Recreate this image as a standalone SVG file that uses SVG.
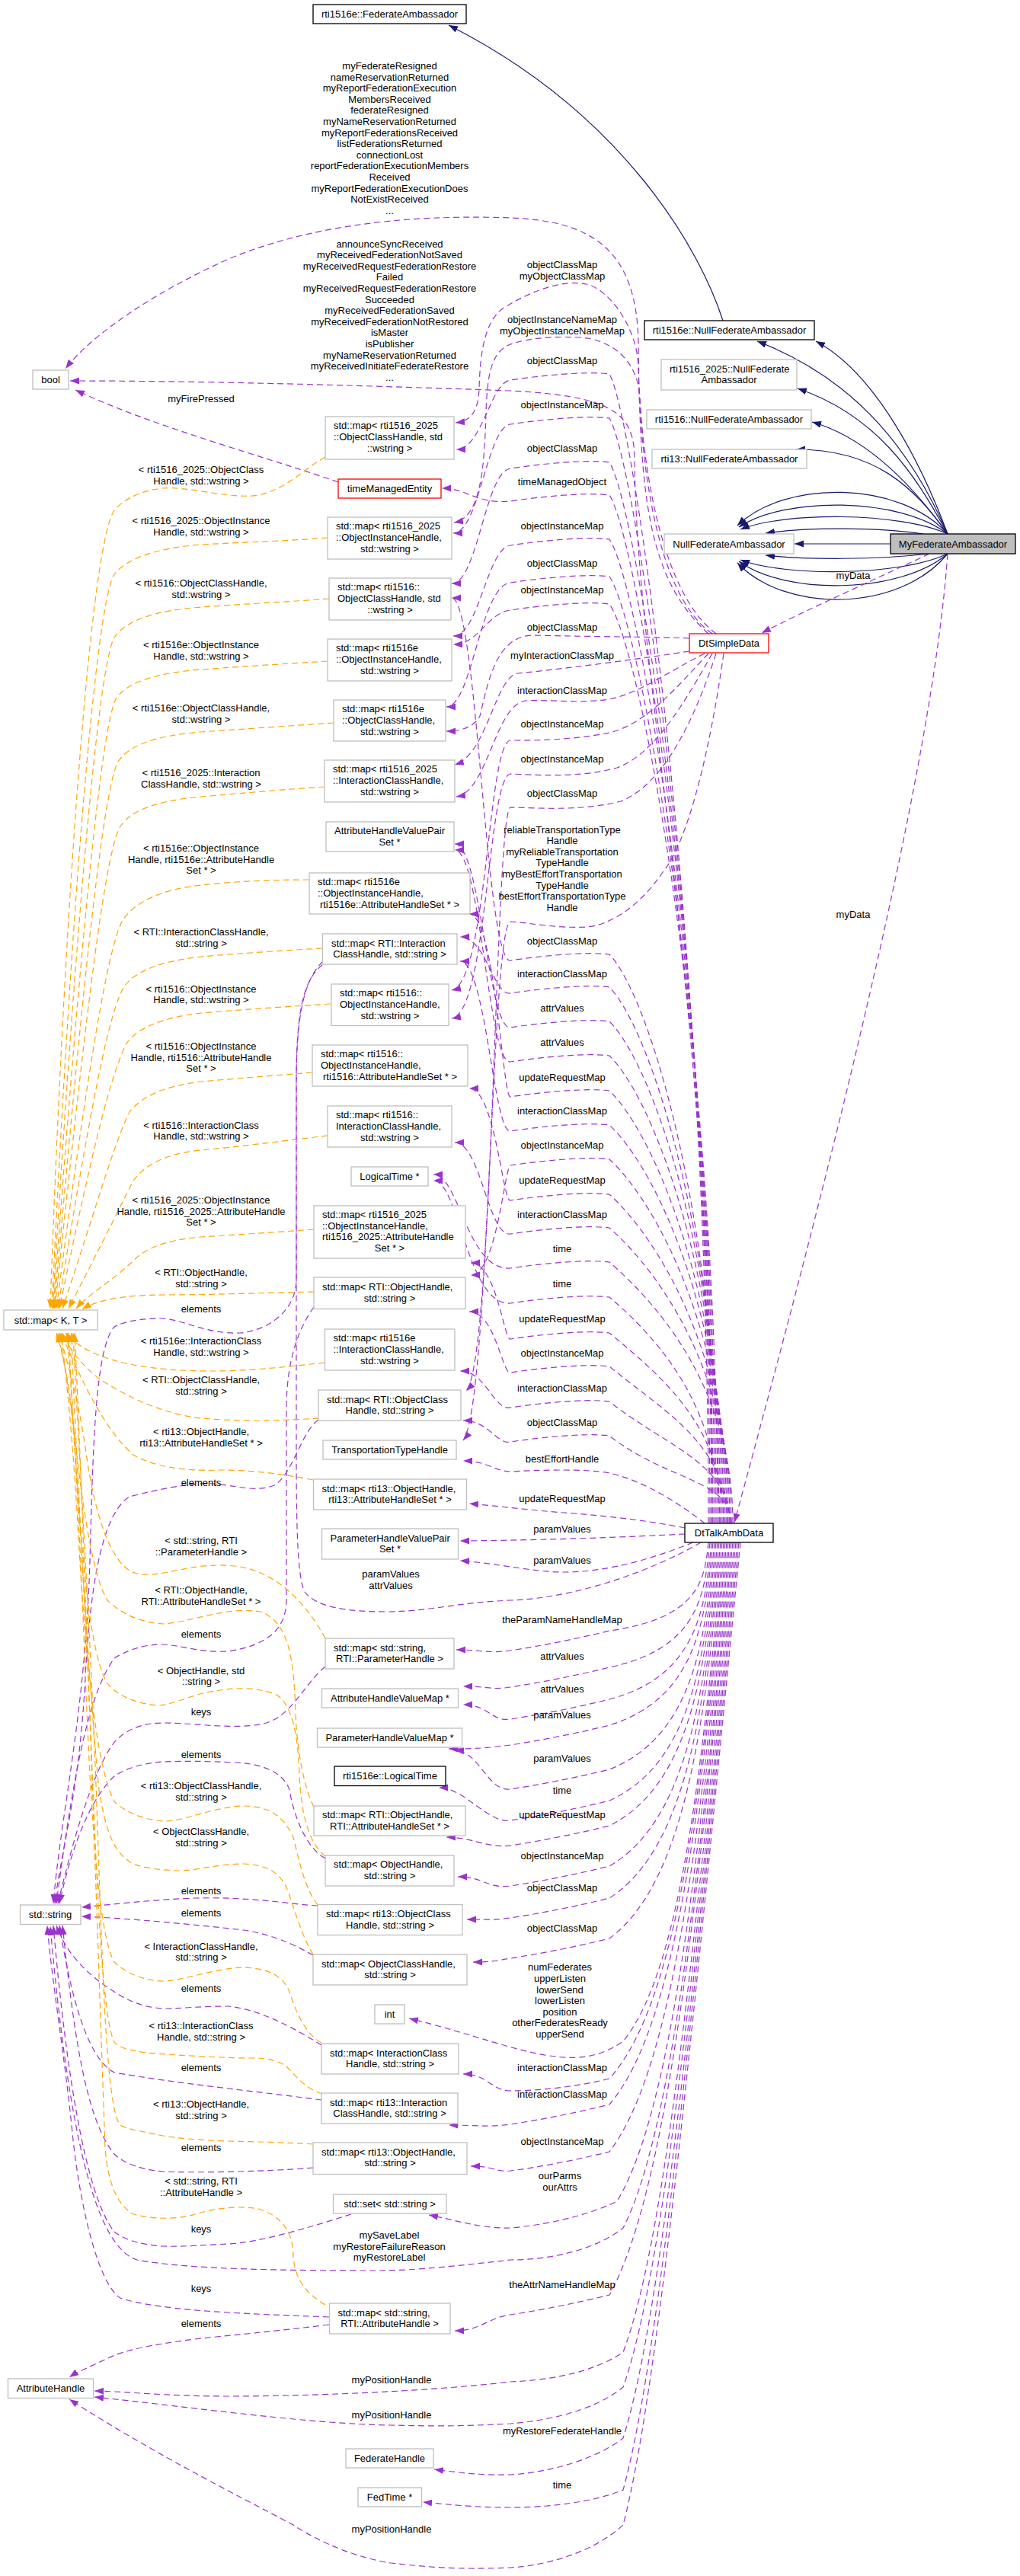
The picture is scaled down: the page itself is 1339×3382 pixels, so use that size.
<svg xmlns="http://www.w3.org/2000/svg" width="1339" height="3382" viewBox="0 0 1339 3382">
<defs>
<style>
.g{fill:#fff;stroke:#bfbfbf;stroke-width:1.3}
.k{fill:#fff;stroke:#000;stroke-width:1.3}
.r{fill:#fff;stroke:#ff0000;stroke-width:1.3}
text{font-family:"Liberation Sans",Arial,sans-serif;font-size:13px;fill:#000}
.c{text-anchor:middle}
.p{fill:none;stroke:#9a32cd;stroke-width:1.2;stroke-dasharray:8,5;marker-end:url(#ap)}
.nm{marker-end:none}
.o{fill:none;stroke:#ffa500;stroke-width:1.2;stroke-dasharray:8,5;marker-end:url(#ao)}
.b{fill:none;stroke:#191970;stroke-width:1.2;marker-end:url(#ab)}
</style>
<marker id="ap" markerUnits="userSpaceOnUse" markerWidth="14" markerHeight="10" refX="12" refY="4.5" orient="auto"><path d="M0,0L12,4.5L0,9z" fill="#9a32cd"/></marker>
<marker id="ao" markerUnits="userSpaceOnUse" markerWidth="14" markerHeight="10" refX="12" refY="4.5" orient="auto"><path d="M0,0L12,4.5L0,9z" fill="#ffa500"/></marker>
<marker id="ab" markerUnits="userSpaceOnUse" markerWidth="14" markerHeight="10" refX="12" refY="4.5" orient="auto"><path d="M0,0L12,4.5L0,9z" fill="#191970"/></marker>
</defs>
<rect width="1339" height="3382" fill="#fff"/>
<g id="connectors">
<path class="b" d="M949,421 C920,330 820,150 589,33"/>
<path class="b" d="M1244,701 C1210,610 1150,490 1071,448"/>
<path class="b" d="M1244,701 C1200,600 1130,500 994,448"/>
<path class="b" d="M1244,701 C1200,620 1150,545 1047,510"/>
<path class="b" d="M1244,701 C1200,640 1140,575 1066,554"/>
<path class="b" d="M1244,701 C1200,640 1150,590 1045,590"/>
<path class="b" d="M1244,701 C1180,630 1030,630 968,690"/>
<path class="b" d="M1244,701 C1180,652 1030,652 970,692"/>
<path class="b" d="M1244,701 C1180,672 1030,672 972,695"/>
<path class="b" d="M1212,701 C1150,692 1060,692 1005,700"/>
<path class="b" d="M1169,714 L1043,714"/>
<path class="b" d="M1220,727 C1150,735 1060,735 1005,729"/>
<path class="b" d="M1244,727 C1180,757 1030,757 972,735"/>
<path class="b" d="M1244,727 C1180,781 1030,781 970,737"/>
<path class="b" d="M1244,727 C1180,805 1030,805 968,739"/>

<path class="p" d="M1220,727 C1150,760 1060,800 1000,831"/>
<path class="p" d="M1244,727 C1225,1000 1100,1500 964,1999"/>
<path class="p" d="M930,832 C850,760 840,650 838,450 C836,330 780,290 670,286 C560,282 420,290 300,340 C200,385 120,440 86,484"/>
<path class="p" d="M935,2000 C935,1300 835,900 833,600 C832,540 800,520 670,513 C450,505 250,500 92,500"/>
<path class="p" d="M444,633 C350,600 200,560 99,512"/>
<path class="p" d="M935,832 C860,780 840,600 838,480 C836,430 800,380 770,373 C740,367 700,380 660,405 C632,425 630,480 629,510 C628,540 618,553 598,555"/>
<path class="p" d="M940,832 C870,780 845,620 840,520 C836,470 800,445 760,443 C720,441 690,445 670,452 C645,462 640,490 638,540 C636,620 630,680 596,686"/>
<path class="p" d="M930,2000 C930,1245 834,551 800,491 C770,487 710,493 670,499 C643,503 633,590 599,590"/>
<path class="p" d="M932,2000 C932,1275 836,609 800,549 C770,545 710,551 670,557 C639,561 629,700 595,700"/>
<path class="p" d="M934,2000 C934,1303 838,667 800,607 C770,603 710,609 670,615 C637,619 627,766 593,766"/>
<path class="p" d="M936,2000 C936,1325 839,710 800,650 C770,646 710,652 670,658 C624,662 614,641 580,641"/>
<path class="p" d="M938,2000 C938,1354 841,768 800,708 C770,704 710,710 670,716 C639,720 629,835 595,835"/>
<path class="p" d="M940,2000 C940,1378 842,817 800,757 C770,753 710,759 670,765 C630,769 620,928 586,928"/>
<path class="p" d="M942,2000 C942,1396 843,853 800,793 C770,789 710,795 670,801 C639,805 629,846 595,846"/>
<path class="p" d="M905,838 C860,836 780,836 700,834 C650,834 640,900 630,940 C622,955 605,960 586,960"/>
<path class="p" d="M905,855 C860,862 760,876 680,884 C650,888 640,990 597,1004"/>
<path class="p" d="M925,858 C880,880 840,910 800,918 C760,924 720,918 690,920 C650,925 640,1040 599,1046"/>
<path class="p" d="M930,858 C890,900 850,950 800,962 C750,972 700,972 670,972 C640,975 640,1290 593,1300"/>
<path class="p" d="M935,858 C900,920 860,990 810,1008 C760,1022 700,1017 670,1016 C640,1020 640,1330 593,1337"/>
<path class="p" d="M940,858 C910,950 870,1030 815,1052 C760,1066 700,1060 670,1060 C650,1065 648,1790 612,1826"/>
<path class="p" d="M950,858 C930,1000 900,1110 870,1145 C840,1190 800,1215 770,1217 C730,1219 700,1212 670,1210 C645,1215 642,1850 608,1891"/>
<path class="p" d="M944,2000 C944,1626 857,1313 800,1253 C770,1249 710,1255 670,1261 C637,1265 627,785 593,785"/>
<path class="p" d="M946,2000 C946,1648 858,1356 800,1296 C770,1292 710,1298 670,1304 C648,1308 638,1230 604,1230"/>
<path class="p" d="M948,2000 C948,1670 860,1401 800,1341 C770,1337 710,1343 670,1349 C641,1353 631,1108 597,1108"/>
<path class="p" d="M950,2000 C950,1693 861,1446 800,1386 C770,1382 710,1388 670,1394 C641,1398 631,1116 597,1116"/>
<path class="p" d="M952,2000 C952,1716 862,1492 800,1432 C770,1428 710,1434 670,1440 C660,1444 650,1200 616,1200"/>
<path class="p" d="M954,2000 C954,1738 864,1537 800,1477 C770,1473 710,1479 670,1485 C648,1489 638,1262 604,1262"/>
<path class="p" d="M956,2000 C956,1761 865,1582 800,1522 C770,1518 710,1524 670,1530 C662,1534 652,1674 618,1674"/>
<path class="p" d="M958,2000 C958,1784 866,1628 800,1568 C770,1564 710,1570 670,1576 C660,1580 650,1429 616,1429"/>
<path class="p" d="M960,2000 C960,1806 868,1672 800,1612 C770,1608 710,1614 670,1620 C641,1624 631,1500 597,1500"/>
<path class="p" d="M962,2000 C962,1828 869,1717 800,1657 C770,1653 710,1659 670,1665 C613,1669 603,1542 569,1542"/>
<path class="p" d="M945,2000 C945,1851 870,1763 800,1703 C770,1699 710,1705 670,1711 C613,1715 603,1550 569,1550"/>
<path class="p" d="M950,2000 C950,1875 872,1810 800,1750 C770,1746 710,1752 670,1758 C662,1762 652,1658 618,1658"/>
<path class="p" d="M955,2000 C955,1897 873,1854 800,1794 C770,1790 710,1796 670,1802 C660,1806 650,1722 616,1722"/>
<path class="p" d="M958,2000 C958,1920 875,1900 800,1840 C770,1836 710,1842 670,1848 C648,1852 638,1800 604,1800"/>
<path class="p" d="M960,2000 C960,1942 876,1945 800,1885 C770,1881 710,1887 670,1893 C652,1897 642,1865 608,1865"/>
<path class="p" d="M925,2000 C900,1980 850,1945 800,1934 C770,1928 710,1930 670,1932 C650,1932 640,1918 608,1918"/>
<path class="p" d="M899,2006 C860,1998 800,1990 740,1986 C700,1983 660,1978 616,1974"/>
<path class="p" d="M899,2014 C820,2018 720,2022 604,2023"/>
<path class="p" d="M910,2025 C860,2045 800,2064 740,2064 C700,2064 650,2052 604,2049"/>
<path class="p nm" d="M920,2025 C860,2060 760,2098 670,2101 C600,2104 560,2116 508,2116 C455,2116 415,2110 400,2090 C390,2070 389,2000 389,1900 L389,1420 C389,1320 400,1285 424,1266"/>
<path class="p" d="M930,2025 C925,2071 921,2124 800,2141 C760,2151 710,2161 670,2167 C640,2171 633,2166 599,2166"/>
<path class="p" d="M932,2025 C925,2091 919,2164 800,2189 C760,2199 710,2209 670,2215 C645,2219 642,2214 608,2214"/>
<path class="p" d="M934,2025 C926,2107 918,2200 800,2231 C760,2241 710,2251 670,2257 C645,2261 642,2238 608,2238"/>
<path class="p" d="M936,2025 C926,2121 917,2229 800,2265 C760,2275 710,2285 670,2291 C640,2295 623,2296 589,2296"/>
<path class="p" d="M938,2025 C926,2144 914,2278 800,2323 C760,2333 710,2343 670,2349 C640,2353 631,2300 597,2298"/>
<path class="p" d="M940,2025 C926,2161 913,2313 800,2364 C760,2374 710,2384 670,2390 C640,2394 610,2347 576,2347"/>
<path class="p" d="M942,2025 C927,2174 912,2341 800,2397 C760,2407 710,2417 670,2423 C640,2427 620,2412 586,2412"/>
<path class="p" d="M944,2025 C927,2195 910,2386 800,2450 C760,2460 710,2470 670,2476 C640,2480 635,2464 601,2464"/>
<path class="p" d="M946,2025 C927,2212 909,2422 800,2492 C760,2502 710,2512 670,2518 C650,2521 647,2520 613,2520"/>
<path class="p" d="M948,2025 C927,2233 906,2467 800,2545 C760,2555 710,2565 670,2571 C655,2573 650,2576 621,2576"/>
<path class="p" d="M950,2025 C924,2287 898,2582 818,2680 C790,2700 760,2704 730,2700 C680,2695 620,2670 537,2650"/>
<path class="p" d="M952,2025 C924,2307 896,2623 800,2729 C760,2739 710,2745 670,2745 C645,2745 640,2723 608,2723"/>
<path class="p" d="M954,2025 C924,2320 895,2652 800,2763 C760,2773 710,2783 670,2789 C640,2793 623,2790 589,2790"/>
<path class="p" d="M956,2025 C924,2345 892,2705 800,2825 C760,2835 710,2845 670,2850 C650,2852 650,2844 618,2844"/>
<path class="p" d="M958,2025 C923,2371 889,2760 810,2890 C770,2910 710,2922 670,2925 C630,2926 600,2915 563,2908"/>
<path class="p" d="M960,2025 C924,2385 888,2790 818,2925 C780,2955 720,2967 670,2967 C600,2975 540,2981 500,2981 C380,2981 250,2980 180,2967 C125,2950 90,2800 66,2529"/>
<path class="p" d="M962,2025 C922,2420 883,2865 800,3013 C760,3023 710,3033 670,3039 C640,3043 631,3060 597,3060"/>
<path class="p" d="M964,2025 C921,2450 879,2929 818,3088 C780,3115 720,3125 670,3127 C560,3140 400,3146 299,3146 C220,3146 170,3140 124,3139"/>
<path class="p" d="M966,2025 C922,2469 877,2968 818,3134 C780,3165 720,3178 670,3182 C600,3186 560,3185 513,3184 C400,3182 250,3160 124,3147"/>
<path class="p" d="M968,2025 C921,2495 874,3025 818,3201 C780,3230 720,3246 670,3249 C630,3250 600,3246 570,3242"/>
<path class="p" d="M970,2025 C920,2523 870,3082 818,3269 C780,3285 720,3292 670,3292 C620,3292 590,3288 555,3285"/>
<path class="p" d="M972,2025 C920,2541 869,3121 818,3315 C780,3350 720,3368 670,3371 C600,3374 560,3370 513,3365 C450,3355 400,3325 385,3315 C300,3270 200,3220 91,3150"/>

<path class="p" d="M424,1262 C400,1285 389,1330 389,1420 L389,1680 C389,1715 360,1745 316,1750 C270,1752 240,1732 213,1731 C180,1731 160,1736 150,1742 C125,1770 122,1900 118,2050 C112,2250 80,2380 70,2499"/>
<path class="p" d="M418,1864 C395,1880 385,1935 360,1950 C330,1962 300,1945 260,1948 C220,1952 190,1960 170,1965 C130,1990 118,2100 112,2200 C105,2350 80,2430 72,2499"/>
<path class="p" d="M412,1716 C395,1740 376,1780 376,1850 L376,2100 C376,2140 350,2160 300,2168 C260,2170 240,2160 213,2159 C185,2159 165,2168 150,2177 C120,2220 100,2300 74,2499"/>
<path class="p" d="M427,2440 C400,2425 385,2380 380,2350 C372,2325 340,2315 308,2314 C270,2312 240,2312 214,2313 C185,2315 165,2322 150,2332 C120,2360 95,2420 78,2499"/>
<path class="p" d="M427,2188 C400,2210 385,2250 350,2262 C310,2272 260,2262 214,2262 C180,2262 160,2275 148,2290 C120,2330 95,2420 76,2499"/>
<path class="p" d="M417,2502 C380,2500 330,2490 256,2492 C200,2494 150,2500 107,2504"/>
<path class="p" d="M411,2567 C390,2555 360,2540 320,2534 C250,2526 160,2518 107,2516"/>
<path class="p" d="M422,2685 C390,2665 340,2637 299,2634 C260,2634 240,2637 214,2637 C185,2635 165,2625 150,2615 C110,2590 85,2560 74,2528"/>
<path class="p" d="M422,2757 C330,2745 230,2735 150,2721 C110,2700 90,2600 78,2528"/>
<path class="p" d="M411,2846 C350,2851 260,2853 214,2851 C180,2848 160,2838 150,2828 C110,2780 95,2650 82,2528"/>
<path class="p" d="M461,2907 C420,2920 340,2945 299,2946 C260,2948 230,2950 214,2949 C180,2947 160,2938 150,2930 C110,2880 85,2700 70,2528"/>
<path class="p" d="M432,3042 C380,3040 330,3038 299,3036 C230,3032 180,3025 158,3017 C130,3000 105,2900 95,2800 C85,2700 68,2600 62,2528"/>
<path class="p" d="M432,3052 C350,3062 300,3066 256,3071 C200,3078 160,3086 140,3097 C120,3106 100,3115 91,3121"/>

<path class="o" d="M427,600 C395,618 380,640 340,650 C300,656 250,638 213,641 C180,645 160,658 150,670 C115,720 80,1300 66,1718"/>
<path class="o" d="M430,706 C380,710 320,712 264,715 C200,720 165,735 150,754 C122,800 88,1300 68,1718"/>
<path class="o" d="M432,786 C380,790 320,793 264,797 C200,802 165,815 150,837 C126,880 93,1320 69,1718"/>
<path class="o" d="M430,868 C380,871 320,875 264,879 C200,884 165,897 152,918 C130,960 98,1340 70,1718"/>
<path class="o" d="M438,949 C380,953 320,957 264,961 C200,966 168,980 155,1000 C133,1040 103,1360 71,1718"/>
<path class="o" d="M426,1033 C380,1036 320,1041 264,1046 C205,1051 170,1065 158,1085 C136,1120 108,1380 72,1718"/>
<path class="o" d="M406,1155 C350,1155 300,1158 264,1162 C210,1168 175,1185 160,1210 C140,1250 113,1420 74,1718"/>
<path class="o" d="M423,1245 C370,1248 310,1252 264,1256 C210,1262 178,1275 163,1295 C142,1330 118,1460 76,1718"/>
<path class="o" d="M434,1318 C370,1322 310,1326 264,1330 C212,1336 180,1350 166,1370 C146,1410 123,1500 78,1718"/>
<path class="o" d="M410,1408 C360,1412 310,1416 264,1420 C215,1426 185,1440 170,1460 C150,1500 128,1580 82,1718"/>
<path class="o" d="M430,1491 C370,1498 310,1506 264,1510 C215,1515 190,1530 175,1550 C155,1590 120,1660 90,1718"/>
<path class="o" d="M412,1614 C360,1618 310,1621 264,1624 C215,1628 190,1640 175,1655 C150,1680 115,1700 100,1718"/>
<path class="o" d="M412,1696 C350,1697 280,1700 220,1700 C170,1700 130,1705 108,1719"/>
<path class="o" d="M426,1789 C380,1794 330,1800 280,1800 C200,1800 120,1790 86,1750"/>
<path class="o" d="M419,1862 C360,1866 310,1866 264,1862 C210,1856 160,1830 130,1810 C105,1790 90,1770 82,1750"/>
<path class="o" d="M411,1943 C370,1935 330,1930 290,1930 C240,1932 200,1925 175,1910 C140,1880 110,1820 80,1750"/>
<path class="o" d="M427,2151 C405,2110 365,2062 308,2056 C250,2050 215,2072 180,2066 C150,2060 125,2000 112,1900 C100,1820 85,1780 78,1750"/>
<path class="o" d="M412,2372 C400,2350 390,2300 388,2250 C386,2180 380,2130 342,2116 C300,2108 250,2130 214,2132 C180,2130 155,2115 141,2101 C115,2060 100,1900 94,1850 C88,1800 80,1770 76,1750"/>
<path class="o" d="M427,2437 C405,2420 395,2380 393,2330 C391,2280 385,2240 363,2225 C330,2212 300,2217 270,2222 C240,2230 220,2240 205,2239 C170,2235 150,2222 141,2210 C115,2170 105,2000 98,1900 C92,1820 82,1775 74,1750"/>
<path class="o" d="M417,2501 C400,2480 392,2440 385,2412 C370,2380 350,2372 320,2371 C280,2372 240,2392 214,2391 C180,2388 160,2375 150,2365 C125,2320 110,2150 102,2000 C95,1880 85,1790 80,1750"/>
<path class="o" d="M411,2566 C395,2540 385,2500 376,2478 C365,2455 345,2448 320,2447 C285,2447 260,2456 235,2456 C200,2455 180,2450 171,2445 C150,2430 140,2410 130,2350 C115,2200 100,1900 88,1750"/>
<path class="o" d="M422,2682 C400,2670 388,2640 380,2615 C370,2590 345,2584 320,2583 C280,2584 240,2601 214,2601 C180,2600 160,2585 150,2576 C130,2540 120,2400 112,2200 C105,2000 92,1800 90,1750"/>
<path class="o" d="M423,2749 C400,2742 388,2725 376,2713 C365,2705 350,2702 330,2702 C290,2702 230,2698 192,2695 C170,2692 155,2688 150,2681 C135,2650 128,2500 120,2300 C112,2100 96,1850 94,1750"/>
<path class="o" d="M411,2815 C380,2813 340,2812 299,2811 C260,2810 230,2807 214,2804 C185,2798 165,2795 158,2790 C140,2770 135,2600 128,2400 C120,2150 100,1850 96,1750"/>
<path class="o" d="M427,3026 C400,3010 386,2990 385,2960 C384,2930 370,2910 340,2900 C310,2895 280,2900 256,2907 C235,2914 200,2914 175,2907 C155,2895 142,2870 138,2820 C130,2600 110,2000 98,1750"/>
</g>
<g id="edge-labels">
<text class="c" x="511.5" y="91">myFederateResigned</text>
<text class="c" x="511.5" y="105.6">nameReservationReturned</text>
<text class="c" x="511.5" y="120.2">myReportFederationExecution</text>
<text class="c" x="511.5" y="134.8">MembersReceived</text>
<text class="c" x="511.5" y="149.4">federateResigned</text>
<text class="c" x="511.5" y="164">myNameReservationReturned</text>
<text class="c" x="511.5" y="178.6">myReportFederationsReceived</text>
<text class="c" x="511.5" y="193.2">listFederationsReturned</text>
<text class="c" x="511.5" y="207.8">connectionLost</text>
<text class="c" x="511.5" y="222.4">reportFederationExecutionMembers</text>
<text class="c" x="511.5" y="237">Received</text>
<text class="c" x="511.5" y="251.6">myReportFederationExecutionDoes</text>
<text class="c" x="511.5" y="266.2">NotExistReceived</text>
<text class="c" x="511.5" y="280.8">...</text>
<text class="c" x="511.5" y="324.5">announceSyncReceived</text>
<text class="c" x="511.5" y="339.1">myReceivedFederationNotSaved</text>
<text class="c" x="511.5" y="353.7">myReceivedRequestFederationRestore</text>
<text class="c" x="511.5" y="368.3">Failed</text>
<text class="c" x="511.5" y="382.9">myReceivedRequestFederationRestore</text>
<text class="c" x="511.5" y="397.5">Succeeded</text>
<text class="c" x="511.5" y="412.1">myReceivedFederationSaved</text>
<text class="c" x="511.5" y="426.7">myReceivedFederationNotRestored</text>
<text class="c" x="511.5" y="441.3">isMaster</text>
<text class="c" x="511.5" y="455.9">isPublisher</text>
<text class="c" x="511.5" y="470.5">myNameReservationReturned</text>
<text class="c" x="511.5" y="485.1">myReceivedInitiateFederateRestore</text>
<text class="c" x="511.5" y="499.7">...</text>
<text class="c" x="264" y="527.5">myFirePressed</text>
<text class="c" x="1120" y="759.5">myData</text>
<text class="c" x="1120" y="1205">myData</text>

<text class="c" x="738" y="352">objectClassMap</text>
<text class="c" x="738" y="367">myObjectClassMap</text>
<text class="c" x="738" y="424">objectInstanceNameMap</text>
<text class="c" x="738" y="438.5">myObjectInstanceNameMap</text>
<text class="c" x="738" y="478">objectClassMap</text>
<text class="c" x="738" y="536">objectInstanceMap</text>
<text class="c" x="738" y="593">objectClassMap</text>
<text class="c" x="738" y="637">timeManagedObject</text>
<text class="c" x="738" y="695">objectInstanceMap</text>
<text class="c" x="738" y="743.5">objectClassMap</text>
<text class="c" x="738" y="779">objectInstanceMap</text>
<text class="c" x="738" y="827.5">objectClassMap</text>
<text class="c" x="738" y="864.5">myInteractionClassMap</text>
<text class="c" x="738" y="910.5">interactionClassMap</text>
<text class="c" x="738" y="955">objectInstanceMap</text>
<text class="c" x="738" y="1000.5">objectInstanceMap</text>
<text class="c" x="738" y="1046">objectClassMap</text>
<text class="c" x="738" y="1093.5">reliableTransportationType</text>
<text class="c" x="738" y="1108.1">Handle</text>
<text class="c" x="738" y="1122.7">myReliableTransportation</text>
<text class="c" x="738" y="1137.3">TypeHandle</text>
<text class="c" x="738" y="1151.9">myBestEffortTransportation</text>
<text class="c" x="738" y="1166.5">TypeHandle</text>
<text class="c" x="738" y="1181.1">bestEffortTransportationType</text>
<text class="c" x="738" y="1195.7">Handle</text>
<text class="c" x="738" y="1239.7">objectClassMap</text>
<text class="c" x="738" y="1282.5">interactionClassMap</text>
<text class="c" x="738" y="1327.5">attrValues</text>
<text class="c" x="738" y="1372.5">attrValues</text>
<text class="c" x="738" y="1418.5">updateRequestMap</text>
<text class="c" x="738" y="1463">interactionClassMap</text>
<text class="c" x="738" y="1508">objectInstanceMap</text>
<text class="c" x="738" y="1554">updateRequestMap</text>
<text class="c" x="738" y="1599">interactionClassMap</text>
<text class="c" x="738" y="1643.7">time</text>
<text class="c" x="738" y="1689.5">time</text>
<text class="c" x="738" y="1736">updateRequestMap</text>
<text class="c" x="738" y="1780.7">objectInstanceMap</text>
<text class="c" x="738" y="1827">interactionClassMap</text>
<text class="c" x="738" y="1872">objectClassMap</text>
<text class="c" x="738" y="1920.4">bestEffortHandle</text>
<text class="c" x="738" y="1972.3">updateRequestMap</text>
<text class="c" x="738" y="2012">paramValues</text>
<text class="c" x="738" y="2052.5">paramValues</text>
<text class="c" x="513" y="2071">paramValues</text>
<text class="c" x="513" y="2086">attrValues</text>
<text class="c" x="738" y="2131">theParamNameHandleMap</text>
<text class="c" x="738" y="2179">attrValues</text>
<text class="c" x="738" y="2222">attrValues</text>
<text class="c" x="738" y="2256">paramValues</text>
<text class="c" x="738" y="2313">paramValues</text>
<text class="c" x="738" y="2354.5">time</text>
<text class="c" x="738" y="2387">updateRequestMap</text>
<text class="c" x="738" y="2441">objectInstanceMap</text>
<text class="c" x="738" y="2482.5">objectClassMap</text>
<text class="c" x="738" y="2535.5">objectClassMap</text>
<text class="c" x="735" y="2587.3">numFederates</text>
<text class="c" x="735" y="2601.9">upperListen</text>
<text class="c" x="735" y="2616.5">lowerSend</text>
<text class="c" x="735" y="2631.1">lowerListen</text>
<text class="c" x="735" y="2645.7">position</text>
<text class="c" x="735" y="2660.3">otherFederatesReady</text>
<text class="c" x="735" y="2674.9">upperSend</text>
<text class="c" x="738" y="2719">interactionClassMap</text>
<text class="c" x="738" y="2754">interactionClassMap</text>
<text class="c" x="738" y="2816">objectInstanceMap</text>
<text class="c" x="735" y="2861">ourParms</text>
<text class="c" x="735" y="2876">ourAttrs</text>
<text class="c" x="511" y="2939">mySaveLabel</text>
<text class="c" x="511" y="2953.5">myRestoreFailureReason</text>
<text class="c" x="511" y="2968">myRestoreLabel</text>
<text class="c" x="738" y="3004">theAttrNameHandleMap</text>
<text class="c" x="514" y="3129">myPositionHandle</text>
<text class="c" x="514" y="3175">myPositionHandle</text>
<text class="c" x="738" y="3196">myRestoreFederateHandle</text>
<text class="c" x="738" y="3267">time</text>
<text class="c" x="514" y="3325">myPositionHandle</text>

<text class="c" x="264" y="621">&lt; rti1516_2025::ObjectClass</text>
<text class="c" x="264" y="636">Handle, std::wstring &gt;</text>
<text class="c" x="264" y="687.7">&lt; rti1516_2025::ObjectInstance</text>
<text class="c" x="264" y="702.5">Handle, std::wstring &gt;</text>
<text class="c" x="264" y="770">&lt; rti1516::ObjectClassHandle,</text>
<text class="c" x="264" y="784.5">std::wstring &gt;</text>
<text class="c" x="264" y="851.3">&lt; rti1516e::ObjectInstance</text>
<text class="c" x="264" y="866.2">Handle, std::wstring &gt;</text>
<text class="c" x="264" y="934">&lt; rti1516e::ObjectClassHandle,</text>
<text class="c" x="264" y="948.5">std::wstring &gt;</text>
<text class="c" x="264" y="1019.3">&lt; rti1516_2025::Interaction</text>
<text class="c" x="264" y="1033.8">ClassHandle, std::wstring &gt;</text>
<text class="c" x="264" y="1117.9">&lt; rti1516e::ObjectInstance</text>
<text class="c" x="264" y="1132.5">Handle, rti1516e::AttributeHandle</text>
<text class="c" x="264" y="1147.1">Set * &gt;</text>
<text class="c" x="264" y="1227.7">&lt; RTI::InteractionClassHandle,</text>
<text class="c" x="264" y="1242.6">std::string &gt;</text>
<text class="c" x="264" y="1302.5">&lt; rti1516::ObjectInstance</text>
<text class="c" x="264" y="1316.5">Handle, std::wstring &gt;</text>
<text class="c" x="264" y="1378.2">&lt; rti1516::ObjectInstance</text>
<text class="c" x="264" y="1392.8">Handle, rti1516::AttributeHandle</text>
<text class="c" x="264" y="1407.4">Set * &gt;</text>
<text class="c" x="264" y="1482">&lt; rti1516::InteractionClass</text>
<text class="c" x="264" y="1496.4">Handle, std::wstring &gt;</text>
<text class="c" x="264" y="1580">&lt; rti1516_2025::ObjectInstance</text>
<text class="c" x="264" y="1594.6">Handle, rti1516_2025::AttributeHandle</text>
<text class="c" x="264" y="1609.2">Set * &gt;</text>
<text class="c" x="264" y="1675">&lt; RTI::ObjectHandle,</text>
<text class="c" x="264" y="1689.5">std::string &gt;</text>
<text class="c" x="264" y="1723">elements</text>
<text class="c" x="264" y="1764.8">&lt; rti1516e::InteractionClass</text>
<text class="c" x="264" y="1779.7">Handle, std::wstring &gt;</text>
<text class="c" x="264" y="1816">&lt; RTI::ObjectClassHandle,</text>
<text class="c" x="264" y="1830.8">std::string &gt;</text>
<text class="c" x="264" y="1883.8">&lt; rti13::ObjectHandle,</text>
<text class="c" x="264" y="1898.6">rti13::AttributeHandleSet * &gt;</text>
<text class="c" x="264" y="1951.2">elements</text>
<text class="c" x="264" y="2027">&lt; std::string, RTI</text>
<text class="c" x="264" y="2042">::ParameterHandle &gt;</text>
<text class="c" x="264" y="2092">&lt; RTI::ObjectHandle,</text>
<text class="c" x="264" y="2106.8">RTI::AttributeHandleSet * &gt;</text>
<text class="c" x="264" y="2150">elements</text>
<text class="c" x="264" y="2197.5">&lt; ObjectHandle, std</text>
<text class="c" x="264" y="2212">::string &gt;</text>
<text class="c" x="264" y="2251.5">keys</text>
<text class="c" x="264" y="2308">elements</text>
<text class="c" x="264" y="2348.5">&lt; rti13::ObjectClassHandle,</text>
<text class="c" x="264" y="2363.5">std::string &gt;</text>
<text class="c" x="264" y="2409">&lt; ObjectClassHandle,</text>
<text class="c" x="264" y="2423.7">std::string &gt;</text>
<text class="c" x="264" y="2487.2">elements</text>
<text class="c" x="264" y="2515.5">elements</text>
<text class="c" x="264" y="2559.5">&lt; InteractionClassHandle,</text>
<text class="c" x="264" y="2574.3">std::string &gt;</text>
<text class="c" x="264" y="2614.5">elements</text>
<text class="c" x="264" y="2664">&lt; rti13::InteractionClass</text>
<text class="c" x="264" y="2678.7">Handle, std::string &gt;</text>
<text class="c" x="264" y="2718.5">elements</text>
<text class="c" x="264" y="2767">&lt; rti13::ObjectHandle,</text>
<text class="c" x="264" y="2782">std::string &gt;</text>
<text class="c" x="264" y="2823.8">elements</text>
<text class="c" x="264" y="2868">&lt; std::string, RTI</text>
<text class="c" x="264" y="2883">::AttributeHandle &gt;</text>
<text class="c" x="264" y="2930.7">keys</text>
<text class="c" x="264" y="3009">keys</text>
<text class="c" x="264" y="3055">elements</text>
</g>
<g id="nodes">
<g id="n-FederateAmbassador"><rect class="k" x="411" y="6" width="201" height="25"/><text class="c" x="511.5" y="23">rti1516e::FederateAmbassador</text></g>
<g id="n-rti1516eNullFA"><rect class="k" x="846" y="421" width="223" height="25"/><text class="c" x="957.5" y="438">rti1516e::NullFederateAmbassador</text></g>
<g id="n-rti1516_2025NullFA"><rect class="g" x="868" y="472" width="178" height="40"/><text x="879" y="488.5">rti1516_2025::NullFederate</text><text class="c" x="957" y="503">Ambassador</text></g>
<g id="n-rti1516NullFA"><rect class="g" x="849" y="538" width="216" height="25"/><text class="c" x="957" y="555">rti1516::NullFederateAmbassador</text></g>
<g id="n-rti13NullFA"><rect class="g" x="856" y="590" width="203" height="25"/><text class="c" x="957.5" y="607">rti13::NullFederateAmbassador</text></g>
<g id="n-NullFA"><rect class="g" x="872" y="701" width="170" height="26"/><text class="c" x="957" y="719">NullFederateAmbassador</text></g>
<g id="n-MyFA"><rect x="1169" y="701" width="164" height="26" fill="#bfbfbf" stroke="#000" stroke-width="1.3"/><text class="c" x="1251" y="719">MyFederateAmbassador</text></g>
<g id="n-DtSimpleData"><rect class="r" x="905" y="832" width="104" height="25"/><text class="c" x="957" y="849">DtSimpleData</text></g>
<g id="n-DtTalkAmbData"><rect class="k" x="899" y="2000" width="116" height="25"/><text class="c" x="957" y="2017">DtTalkAmbData</text></g>
<g id="n-bool"><rect class="g" x="43" y="486" width="47" height="25"/><text class="c" x="66.5" y="503">bool</text></g>
<g id="n11"><rect class="g" x="427" y="547" width="169" height="56"/><text x="438" y="563">std::map&lt; rti1516_2025</text><text x="438" y="577.5">::ObjectClassHandle, std</text><text class="c" x="511.5" y="592.5">::wstring &gt;</text></g>
<g id="n-timeManagedEntity"><rect class="r" x="444" y="629" width="135" height="25"/><text class="c" x="511.5" y="646">timeManagedEntity</text></g>
<g id="n13"><rect class="g" x="430" y="679" width="163" height="55"/><text x="441" y="695">std::map&lt; rti1516_2025</text><text x="441" y="709.5">::ObjectInstanceHandle,</text><text class="c" x="511.5" y="724.5">std::wstring &gt;</text></g>
<g id="n14"><rect class="g" x="432" y="759" width="160" height="55"/><text x="443" y="775">std::map&lt; rti1516::</text><text x="443" y="789.5">ObjectClassHandle, std</text><text class="c" x="512" y="804.5">::wstring &gt;</text></g>
<g id="n15"><rect class="g" x="430" y="839" width="163" height="55"/><text x="441" y="855">std::map&lt; rti1516e</text><text x="441" y="869.5">::ObjectInstanceHandle,</text><text class="c" x="511.5" y="884.5">std::wstring &gt;</text></g>
<g id="n16"><rect class="g" x="438" y="919" width="147" height="54"/><text x="449" y="935">std::map&lt; rti1516e</text><text x="449" y="949.5">::ObjectClassHandle,</text><text class="c" x="511.5" y="964.5">std::wstring &gt;</text></g>
<g id="n17"><rect class="g" x="426" y="998" width="171" height="55"/><text x="437" y="1014">std::map&lt; rti1516_2025</text><text x="437" y="1028.5">::InteractionClassHandle,</text><text class="c" x="511.5" y="1043.5">std::wstring &gt;</text></g>
<g id="n18"><rect class="g" x="428" y="1079" width="168" height="39"/><text x="439" y="1095">AttributeHandleValuePair</text><text class="c" x="511.5" y="1109.5">Set *</text></g>
<g id="n19"><rect class="g" x="406" y="1146" width="211" height="54"/><text x="417" y="1162">std::map&lt; rti1516e</text><text x="417" y="1176.5">::ObjectInstanceHandle,</text><text class="c" x="511.5" y="1191.5">rti1516e::AttributeHandleSet * &gt;</text></g>
<g id="n20"><rect class="g" x="423.5" y="1226" width="176.5" height="40"/><text x="435" y="1242.5">std::map&lt; RTI::Interaction</text><text class="c" x="511.5" y="1257">ClassHandle, std::string &gt;</text></g>
<g id="n21"><rect class="g" x="435" y="1292" width="154" height="54.5"/><text x="446" y="1308">std::map&lt; rti1516::</text><text x="446" y="1322.5">ObjectInstanceHandle,</text><text class="c" x="512" y="1337.5">std::wstring &gt;</text></g>
<g id="n22"><rect class="g" x="410" y="1372" width="204" height="54"/><text x="421" y="1388">std::map&lt; rti1516::</text><text x="421" y="1402.5">ObjectInstanceHandle,</text><text class="c" x="512" y="1417.5">rti1516::AttributeHandleSet * &gt;</text></g>
<g id="n23"><rect class="g" x="430" y="1452" width="163" height="54"/><text x="441" y="1468">std::map&lt; rti1516::</text><text x="441" y="1482.5">InteractionClassHandle,</text><text class="c" x="511.5" y="1497.5">std::wstring &gt;</text></g>
<g id="n-LogicalTimePtr"><rect class="g" x="461" y="1532" width="101" height="25"/><text class="c" x="511.5" y="1549">LogicalTime *</text></g>
<g id="n25"><rect class="g" x="412" y="1583" width="199" height="69"/><text x="423" y="1599">std::map&lt; rti1516_2025</text><text x="423" y="1613.5">::ObjectInstanceHandle,</text><text x="423" y="1628">rti1516_2025::AttributeHandle</text><text class="c" x="511.5" y="1643">Set * &gt;</text></g>
<g id="n26"><rect class="g" x="412" y="1677" width="199" height="41.5"/><text x="423" y="1694">std::map&lt; RTI::ObjectHandle,</text><text class="c" x="511.5" y="1709">std::string &gt;</text></g>
<g id="n-mapKT"><rect class="g" x="5" y="1720" width="123" height="26"/><text class="c" x="66.5" y="1738">std::map&lt; K, T &gt;</text></g>
<g id="n28"><rect class="g" x="426.5" y="1745" width="170.5" height="54"/><text x="437.5" y="1761">std::map&lt; rti1516e</text><text x="437.5" y="1775.5">::InteractionClassHandle,</text><text class="c" x="511.5" y="1790.5">std::wstring &gt;</text></g>
<g id="n29"><rect class="g" x="418" y="1825" width="187" height="40"/><text x="429" y="1841.5">std::map&lt; RTI::ObjectClass</text><text class="c" x="511.5" y="1856">Handle, std::string &gt;</text></g>
<g id="n-TransportationTypeHandle"><rect class="g" x="424" y="1891" width="175" height="25"/><text class="c" x="511.5" y="1908">TransportationTypeHandle</text></g>
<g id="n31"><rect class="g" x="411.5" y="1942" width="201" height="40"/><text x="422.5" y="1958.5">std::map&lt; rti13::ObjectHandle,</text><text class="c" x="512" y="1973">rti13::AttributeHandleSet * &gt;</text></g>
<g id="n32"><rect class="g" x="422.5" y="2007" width="179" height="40"/><text x="433.5" y="2023.5">ParameterHandleValuePair</text><text class="c" x="512" y="2038">Set *</text></g>
<g id="n33"><rect class="g" x="427" y="2151" width="169" height="40"/><text x="438" y="2167.5">std::map&lt; std::string,</text><text class="c" x="511.5" y="2182">RTI::ParameterHandle &gt;</text></g>
<g id="n-AHVMap"><rect class="g" x="422.5" y="2217" width="179" height="25"/><text class="c" x="512" y="2234">AttributeHandleValueMap *</text></g>
<g id="n-PHVMap"><rect class="g" x="416.5" y="2269" width="190" height="25"/><text class="c" x="511.5" y="2286">ParameterHandleValueMap *</text></g>
<g id="n-rti1516eLogicalTime"><rect class="k" x="439" y="2319" width="146" height="25.5"/><text class="c" x="512" y="2336">rti1516e::LogicalTime</text></g>
<g id="n37"><rect class="g" x="412" y="2371" width="199" height="39"/><text x="423" y="2387">std::map&lt; RTI::ObjectHandle,</text><text class="c" x="511.5" y="2401.5">RTI::AttributeHandleSet * &gt;</text></g>
<g id="n38"><rect class="g" x="427" y="2436" width="169" height="40"/><text x="438" y="2452">std::map&lt; ObjectHandle,</text><text class="c" x="511.5" y="2466.5">std::string &gt;</text></g>
<g id="n-stdstring"><rect class="g" x="26.5" y="2501" width="79.5" height="25.5"/><text class="c" x="66" y="2518">std::string</text></g>
<g id="n40"><rect class="g" x="417" y="2500.5" width="190" height="40"/><text x="428" y="2517">std::map&lt; rti13::ObjectClass</text><text class="c" x="512" y="2531.5">Handle, std::string &gt;</text></g>
<g id="n41"><rect class="g" x="411" y="2566" width="202" height="40"/><text x="422" y="2582.5">std::map&lt; ObjectClassHandle,</text><text class="c" x="512" y="2597">std::string &gt;</text></g>
<g id="n-int"><rect class="g" x="492" y="2632" width="39" height="25"/><text class="c" x="511.5" y="2649">int</text></g>
<g id="n43"><rect class="g" x="422" y="2683" width="180" height="40"/><text x="433" y="2699.5">std::map&lt; InteractionClass</text><text class="c" x="512" y="2714">Handle, std::string &gt;</text></g>
<g id="n44"><rect class="g" x="422" y="2748" width="179" height="40"/><text x="433" y="2764.5">std::map&lt; rti13::Interaction</text><text class="c" x="511.5" y="2779">ClassHandle, std::string &gt;</text></g>
<g id="n45"><rect class="g" x="411" y="2813" width="202" height="41.5"/><text x="422" y="2829.5">std::map&lt; rti13::ObjectHandle,</text><text class="c" x="512" y="2844">std::string &gt;</text></g>
<g id="n-stdset"><rect class="g" x="437.5" y="2881" width="148.5" height="25"/><text class="c" x="511.5" y="2898">std::set&lt; std::string &gt;</text></g>
<g id="n47"><rect class="g" x="432.5" y="3024" width="158.5" height="40"/><text x="443.5" y="3040.5">std::map&lt; std::string,</text><text class="c" x="511.5" y="3055">RTI::AttributeHandle &gt;</text></g>
<g id="n-AttributeHandle"><rect class="g" x="10.5" y="3123" width="112" height="25.5"/><text class="c" x="66.5" y="3140">AttributeHandle</text></g>
<g id="n-FederateHandle"><rect class="g" x="454" y="3215" width="115" height="25"/><text class="c" x="511.5" y="3232">FederateHandle</text></g>
<g id="n-FedTime"><rect class="g" x="470" y="3266" width="83.5" height="25"/><text class="c" x="511.5" y="3283">FedTime *</text></g>
</g>
</svg>
